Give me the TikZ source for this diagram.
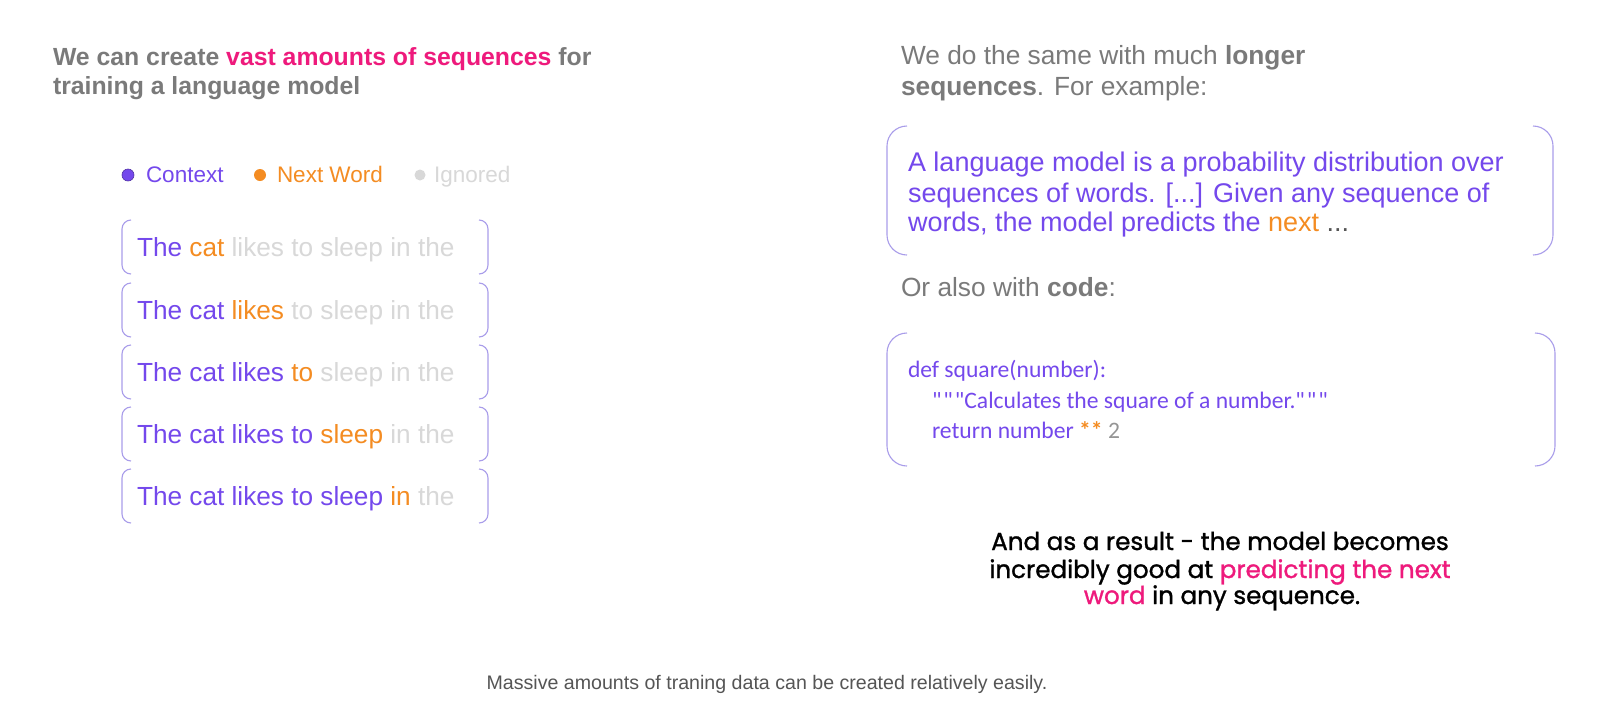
\documentclass[tikz,border=0pt]{standalone}
\usepackage{fontspec}
\setmainfont{Liberation Sans}
\newfontfamily\codefont{Carlito}
\newfontfamily\handfont[FakeBold=1.2]{Poppins}
\definecolor{cpurple}{HTML}{7448EC}
\definecolor{corange}{HTML}{F48C22}
\definecolor{cpink}{HTML}{EE1A7C}
\definecolor{cign}{HTML}{D8D8D8}
\definecolor{ctitle}{HTML}{7A7A7A}
\definecolor{cbox}{HTML}{A99DEA}
\definecolor{ccap}{HTML}{555555}
\newcommand{\Cx}[1]{\textcolor{cpurple}{#1}}
\newcommand{\Nx}[1]{\textcolor{corange}{#1}}
\newcommand{\Ix}[1]{\textcolor{cign}{#1}}
\newcommand{\tq}{"\kern2pt"\kern2pt"}
\tikzset{
  txt/.style={anchor=base west, inner sep=0pt, outer sep=0pt},
  ctr/.style={anchor=base, inner sep=0pt, outer sep=0pt},
  titlefont/.style={font=\fontsize{24.8}{29}\selectfont\bfseries, text=ctitle},
  rtitlefont/.style={font=\fontsize{26.3}{29}\selectfont, text=ctitle},
  legfont/.style={font=\fontsize{22.5}{26}\selectfont},
  rowfont/.style={font=\fontsize{26.2}{30}\selectfont},
  bigfont/.style={font=\fontsize{27}{31}\selectfont, text=cpurple},
  codetxt/.style={font=\codefont\fontsize{23.6}{30}\selectfont, text=cpurple},
  handtxt/.style={font=\handfont\fontsize{24.6}{27}\selectfont, text=black},
  capfont/.style={font=\fontsize{19.6}{21}\selectfont, text=ccap},
  frame/.style={draw=none, inner sep=0pt, outer sep=0pt, rectangle},
  brk/.style={draw=cbox, line width=1.1pt},
  dot/.style={circle, inner sep=0pt, minimum size=12pt},
}
\newcommand{\brackets}[2]{%
  \draw[brk, rounded corners=#2] ([xshift=#2]#1.north west) -- (#1.north west) -- (#1.south west) -- ([xshift=#2]#1.south west);
  \draw[brk, rounded corners=#2] ([xshift=-#2]#1.north east) -- (#1.north east) -- (#1.south east) -- ([xshift=-#2]#1.south east);
}
\begin{document}
\begin{tikzpicture}[x=1pt,y=-1pt]
\useasboundingbox[fill=white] (0,0) rectangle (1618,702);

% left title
\node[txt, titlefont] (t1) at (53,65) {We can create \textcolor{cpink}{vast amounts of sequences} for};
\node[txt, titlefont] (t2) at (53,94) {training a language model};

% legend
\node[dot, fill=cpurple, draw=cpurple!70!black, line width=0.6pt] (d1) at (128,175) {};
\node[txt, legfont, text=cpurple] (l1) at (146,182) {Context};
\node[dot, fill=corange] (d2) at (260,175) {};
\node[txt, legfont, text=corange] (l2) at (277,182) {Next Word};
\node[dot, fill=cign, minimum size=11pt] (d3) at (420,175) {};
\node[txt, legfont, text=cign] (l3) at (434,182) {Ignored};

% rows
\foreach \i/\yc in {1/247,2/310,3/372,4/434,5/496}{
  \node[frame, minimum width=366pt, minimum height=54pt] (row\i) at (305,\yc) {};
}
\foreach \i in {1,...,5}{ \brackets{row\i}{9} }
\node[txt, rowfont] (x1) at (137,256) {\Cx{The} \Nx{cat} \Ix{likes to sleep in the}};
\node[txt, rowfont] (x2) at (137,319) {\Cx{The cat} \Nx{likes} \Ix{to sleep in the}};
\node[txt, rowfont] (x3) at (137,381) {\Cx{The cat likes} \Nx{to} \Ix{sleep in the}};
\node[txt, rowfont] (x4) at (137,443) {\Cx{The cat likes to} \Nx{sleep} \Ix{in the}};
\node[txt, rowfont] (x5) at (137,505) {\Cx{The cat likes to sleep} \Nx{in} \Ix{the}};

% right title
\node[txt, rtitlefont] (rt1) at (901,64) {We do the same with much \textbf{longer}};
\node[txt, rtitlefont] (rt2) at (901,95) {\textbf{sequences}. For example:};

% big box
\node[frame, minimum width=666pt, minimum height=129pt] (bb) at (1220,190.5) {};
\brackets{bb}{20}
\node[txt, bigfont] (b1) at (908,171) {A language model is a probability distribution over};
\node[txt, bigfont] (b2) at (908,202) {sequences of words. [...] Given any sequence of};
\node[txt, bigfont] (b3) at (908,231) {words, the model predicts the \textcolor{corange}{next} \textcolor{ccap}{...}};

\node[txt, rtitlefont] (oc) at (901,296) {Or also with \textbf{code}:};

% code box
\node[frame, minimum width=668pt, minimum height=133pt] (cb) at (1221,399.5) {};
\brackets{cb}{20}
\node[txt, codetxt] (c1) at (908,377) {def square(number):};
\node[txt, codetxt] (c2) at (932,408) {\tq Calculates the square of a number.\tq};
\node[txt, codetxt] (c3) at (932,438) {return number \textcolor{corange}{\textbf{**}} \textcolor{ctitle!80}{2}};

% handwritten note
\node[ctr, handtxt] (h1) at (1220,550) {And as a result - the model becomes};
\node[ctr, handtxt] (h2) at (1220,578) {incredibly good at \textcolor{cpink}{predicting the next}};
\node[ctr, handtxt] (h3) at (1222,604) {\textcolor{cpink}{word} in any sequence.};

% caption
\node[ctr, capfont] (cap) at (767,689) {Massive amounts of traning data can be created relatively easily.};
\end{tikzpicture}
\end{document}
